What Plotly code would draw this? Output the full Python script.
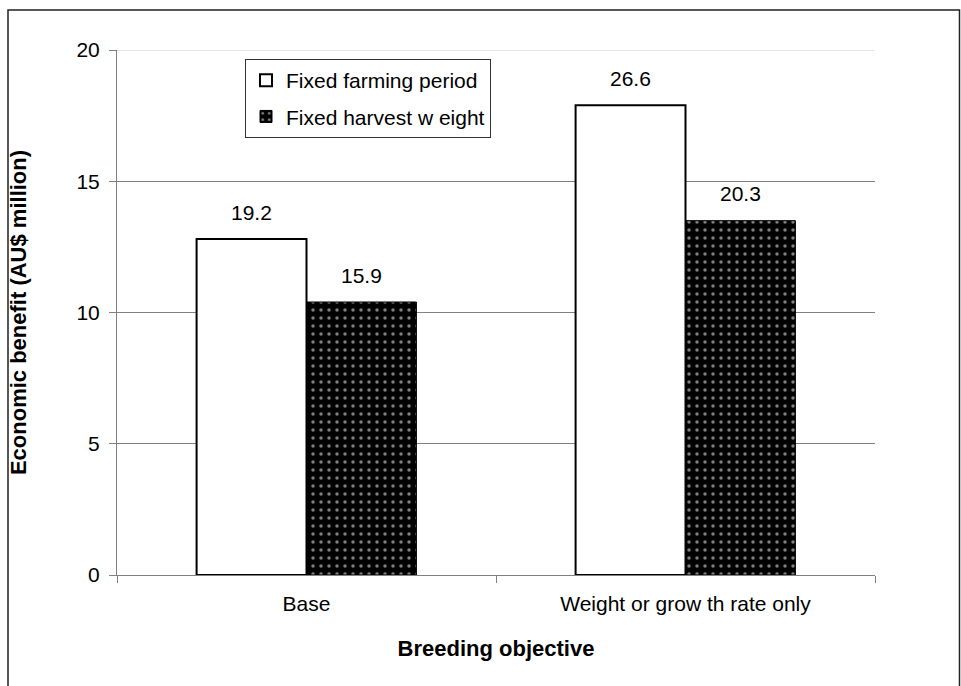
import plotly.graph_objects as go

categories = ["Base", "Weight or grow th rate only"]
series_names = ["Fixed farming period", "Fixed harvest w eight"]
fixed_period = [12.8, 17.9]
fixed_weight = [10.4, 13.5]
label_period = ["19.2", "26.6"]
label_weight = ["15.9", "20.3"]
y_ticks = [0, 5, 10, 15, 20]

FONT = "Liberation Sans, Arial, sans-serif"
FS = 21
W, H = 961, 686
ML, MR, MT, MB = 117, 86, 50, 111
BARGAP = 0.42

fig = go.Figure()
fig.add_trace(go.Bar(
    name=series_names[0], x=categories, y=fixed_period,
    marker=dict(color="white", line=dict(color="black", width=2)),
    legendgroup="a",
))
fig.add_trace(go.Bar(
    name=series_names[1], x=categories, y=fixed_weight,
    marker=dict(color="black", line=dict(color="black", width=1),
                pattern=dict(shape=".", bgcolor="black", fgcolor="white",
                             size=8, solidity=0.15, fillmode="overlay")),
    legendgroup="b",
))

half = (1 - BARGAP) / 4
annotations = []
for i in range(len(categories)):
    annotations.append(dict(x=i - half, y=fixed_period[i], text=label_period[i],
                            xref="x", yref="y", showarrow=False, yshift=27,
                            font=dict(family=FONT, size=FS, color="black")))
    annotations.append(dict(x=i + half, y=fixed_weight[i], text=label_weight[i],
                            xref="x", yref="y", showarrow=False, yshift=27,
                            font=dict(family=FONT, size=FS, color="black")))

pw = W - ML - MR
ph = H - MT - MB
bottom_px = H - MB
shapes = [
    dict(type="line", xref="paper", yref="y", x0=0, x1=1, y0=y_ticks[-1], y1=y_ticks[-1],
         line=dict(color="#e4e4e4", width=2), layer="below"),
    dict(type="rect", xref="paper", yref="paper",
         x0=(8 - ML) / pw, x1=(959.5 - ML) / pw,
         y0=(bottom_px - 720) / ph, y1=(bottom_px - 10) / ph,
         line=dict(color="#222222", width=1.5), fillcolor="rgba(0,0,0,0)", layer="above"),
]

fig.update_layout(
    width=W, height=H,
    margin=dict(l=ML, r=MR, t=MT, b=MB),
    paper_bgcolor="white", plot_bgcolor="white",
    barmode="group", bargap=BARGAP, bargroupgap=0,
    font=dict(family=FONT, size=FS, color="black"),
    showlegend=True,
    legend=dict(x=(245 - ML) / pw, y=(bottom_px - 59) / ph, xanchor="left", yanchor="top",
                bordercolor="#333333", borderwidth=1, bgcolor="white",
                font=dict(family=FONT, size=FS, color="black"),
                traceorder="grouped", tracegroupgap=6, itemwidth=30),
    annotations=annotations,
    shapes=shapes,
)
fig.update_xaxes(
    showline=True, linecolor="#808080", linewidth=1,
    ticks="outside", tickson="boundaries", ticklen=7, tickcolor="#808080",
    ticklabelstandoff=10,
    title=dict(text="<b>Breeding objective</b>", font=dict(family=FONT, size=22), standoff=26),
    showgrid=False, automargin=False,
)
fig.update_yaxes(
    range=[0, 20], tickvals=y_ticks,
    showline=True, linecolor="#808080", linewidth=1,
    ticks="outside", ticklen=7, tickcolor="#808080",
    ticklabelstandoff=5,
    showgrid=True, gridcolor="#808080", gridwidth=1,
    zeroline=False,
    title=dict(text="<b>Economic benefit (AU$ million)</b>", font=dict(family=FONT, size=22), standoff=43),
    automargin=False,
)

fig.write_html("out.html")
